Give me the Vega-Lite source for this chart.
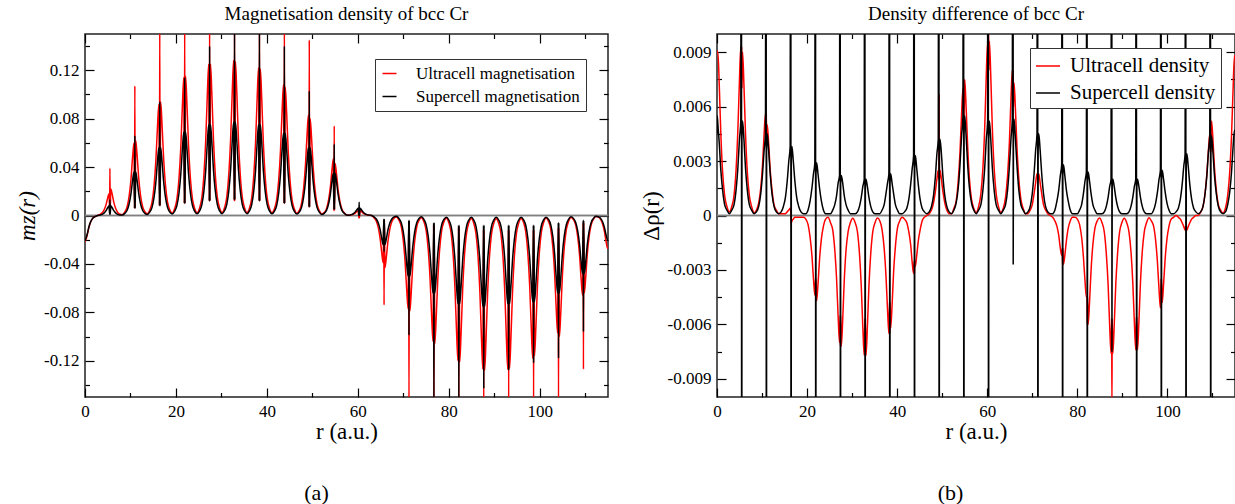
{
"$schema":"https://vega.github.io/schema/vega-lite/v6.json",
"background":"white",
"padding":{"left":15,"top":4,"right":0,"bottom":0},
"spacing":29,
"config":{"font":"Liberation Serif","view":{"stroke":"#222","strokeWidth":1.5},
"axis":{"grid":false,"domain":false,"labelFont":"Liberation Serif","titleFont":"Liberation Serif","labelFontSize":17,"titleFontSize":23,"titleFontWeight":"normal","labelColor":"black","titleColor":"black","tickColor":"black","tickWidth":1.2,"labelFlush":false,"labelOverlap":false},
"title":{"font":"Liberation Serif","fontSize":19,"fontWeight":"normal","color":"black"},
"legend":{"labelFont":"Liberation Serif","labelColor":"black","labelLimit":400}},
"datasets":{"curves":[
{"r":0,"mu":-0.022,"ms":-0.021,"du":0.0091,"ds":0.0045},
{"r":0.06,"mu":-0.021,"ms":-0.02,"du":0.009,"ds":0.0055},
{"r":0.2,"mu":-0.02,"ms":-0.019,"du":0.009,"ds":0.005},
{"r":0.5,"mu":-0.016,"ms":-0.0152,"du":0.0072,"ds":0.004},
{"r":0.85,"mu":-0.01,"ms":-0.0095,"du":0.0045,"ds":0.0025},
{"r":1.25,"mu":-0.0054,"ms":-0.0051,"du":0.0024,"ds":0.0014},
{"r":1.7,"mu":-0.0024,"ms":-0.0023,"du":0.0011,"ds":0.0006},
{"r":2.2,"mu":-0.001,"ms":-0.001,"du":0.0005,"ds":0.0003},
{"r":2.74,"mu":0,"ms":0,"du":0.0002,"ds":0.0001},
{"r":3.28,"mu":0.0009,"ms":0.0004,"du":0.0005,"ds":0.0003},
{"r":3.78,"mu":0.0022,"ms":0.001,"du":0.0011,"ds":0.0006},
{"r":4.23,"mu":0.0049,"ms":0.0022,"du":0.0025,"ds":0.0014},
{"r":4.63,"mu":0.009,"ms":0.004,"du":0.0047,"ds":0.0026},
{"r":4.98,"mu":0.0144,"ms":0.0064,"du":0.0074,"ds":0.0042},
{"r":5.28,"mu":0.018,"ms":0.008,"du":0.0093,"ds":0.0052},
{"r":5.42,"mu":0.004,"ms":0.001,"du":0.007,"ds":0.05},
{"r":5.48,"mu":0.039,"ms":0.013,"du":0.0093,"ds":-0.05},
{"r":5.54,"mu":0.004,"ms":0.001,"du":0.007,"ds":0.0042},
{"r":5.68,"mu":0.022,"ms":0.008,"du":0.009,"ds":0.0052},
{"r":5.98,"mu":0.0176,"ms":0.0064,"du":0.0072,"ds":0.0042},
{"r":6.33,"mu":0.011,"ms":0.004,"du":0.0045,"ds":0.0026},
{"r":6.73,"mu":0.0059,"ms":0.0022,"du":0.0024,"ds":0.0014},
{"r":7.18,"mu":0.0026,"ms":0.001,"du":0.0011,"ds":0.0006},
{"r":7.68,"mu":0.0011,"ms":0.0004,"du":0.0005,"ds":0.0003},
{"r":8.22,"mu":0.0008,"ms":0.0004,"du":0.00015,"ds":0.0001},
{"r":8.76,"mu":0.003,"ms":0.0018,"du":0.0003,"ds":0.0002},
{"r":9.26,"mu":0.0072,"ms":0.0043,"du":0.0007,"ds":0.0005},
{"r":9.71,"mu":0.0162,"ms":0.0097,"du":0.0015,"ds":0.0012},
{"r":10.11,"mu":0.03,"ms":0.018,"du":0.0028,"ds":0.0023},
{"r":10.46,"mu":0.048,"ms":0.0288,"du":0.0045,"ds":0.0036},
{"r":10.76,"mu":0.06,"ms":0.036,"du":0.0056,"ds":0.0045},
{"r":10.9,"mu":0.006,"ms":0.006,"du":0.004,"ds":0.05},
{"r":10.96,"mu":0.107,"ms":0.066,"du":0.0056,"ds":-0.05},
{"r":11.02,"mu":0.006,"ms":0.006,"du":0.004,"ds":0.0036},
{"r":11.16,"mu":0.062,"ms":0.036,"du":0.005,"ds":0.0045},
{"r":11.46,"mu":0.0496,"ms":0.0288,"du":0.004,"ds":0.0036},
{"r":11.81,"mu":0.031,"ms":0.018,"du":0.0025,"ds":0.0023},
{"r":12.21,"mu":0.0167,"ms":0.0097,"du":0.0014,"ds":0.0012},
{"r":12.66,"mu":0.0074,"ms":0.0043,"du":0.0006,"ds":0.0005},
{"r":13.16,"mu":0.0031,"ms":0.0018,"du":0.0003,"ds":0.0002},
{"r":13.7,"mu":0.0015,"ms":0.0009,"du":0.0001,"ds":0.0001},
{"r":14.24,"mu":0.0046,"ms":0.0028,"du":0.0001,"ds":0.0002},
{"r":14.74,"mu":0.011,"ms":0.0067,"du":0.0001,"ds":0.0005},
{"r":15.19,"mu":0.0248,"ms":0.0151,"du":0.0001,"ds":0.001},
{"r":15.59,"mu":0.046,"ms":0.028,"du":0.0002,"ds":0.0019},
{"r":15.94,"mu":0.0736,"ms":0.0448,"du":0.0003,"ds":0.003},
{"r":16.24,"mu":0.092,"ms":0.056,"du":0.0004,"ds":0.0038},
{"r":16.38,"mu":0.008,"ms":0.008,"du":0.0002,"ds":0.05},
{"r":16.44,"mu":0.16,"ms":0.094,"du":-0.0005,"ds":-0.05},
{"r":16.5,"mu":0.008,"ms":0.008,"du":-0.0004,"ds":0.003},
{"r":16.64,"mu":0.094,"ms":0.056,"du":-0.0003,"ds":0.0038},
{"r":16.94,"mu":0.0752,"ms":0.0448,"du":-0.0002,"ds":0.003},
{"r":17.29,"mu":0.047,"ms":0.028,"du":-0.0001,"ds":0.0019},
{"r":17.69,"mu":0.0254,"ms":0.0151,"du":-0.0001,"ds":0.001},
{"r":18.14,"mu":0.0113,"ms":0.0067,"du":-0.0001,"ds":0.0005},
{"r":18.64,"mu":0.0047,"ms":0.0028,"du":-0.0001,"ds":0.0002},
{"r":19.18,"mu":0.0021,"ms":0.0013,"du":-0.0001,"ds":0.0001},
{"r":19.72,"mu":0.0057,"ms":0.0035,"du":-0.0002,"ds":0.0001},
{"r":20.22,"mu":0.0137,"ms":0.0083,"du":-0.0005,"ds":0.0003},
{"r":20.67,"mu":0.0308,"ms":0.0186,"du":-0.0012,"ds":0.0008},
{"r":21.07,"mu":0.057,"ms":0.0345,"du":-0.0022,"ds":0.0015},
{"r":21.42,"mu":0.0912,"ms":0.0552,"du":-0.0035,"ds":0.0023},
{"r":21.72,"mu":0.114,"ms":0.069,"du":-0.0044,"ds":0.0029},
{"r":21.86,"mu":0.01,"ms":0.01,"du":-0.0035,"ds":0.05},
{"r":21.92,"mu":0.16,"ms":0.114,"du":-0.0047,"ds":-0.05},
{"r":21.98,"mu":0.01,"ms":0.01,"du":-0.0035,"ds":0.0023},
{"r":22.12,"mu":0.115,"ms":0.069,"du":-0.0047,"ds":0.0029},
{"r":22.42,"mu":0.092,"ms":0.0552,"du":-0.0038,"ds":0.0023},
{"r":22.77,"mu":0.0575,"ms":0.0345,"du":-0.0024,"ds":0.0015},
{"r":23.17,"mu":0.031,"ms":0.0186,"du":-0.0013,"ds":0.0008},
{"r":23.62,"mu":0.0138,"ms":0.0083,"du":-0.0006,"ds":0.0003},
{"r":24.12,"mu":0.0058,"ms":0.0035,"du":-0.0002,"ds":0.0001},
{"r":24.66,"mu":0.0024,"ms":0.0014,"du":-0.0001,"ds":0.0001},
{"r":25.2,"mu":0.0063,"ms":0.0038,"du":-0.0004,"ds":0.0001},
{"r":25.7,"mu":0.015,"ms":0.009,"du":-0.0008,"ds":0.0003},
{"r":26.15,"mu":0.0338,"ms":0.0203,"du":-0.0019,"ds":0.0006},
{"r":26.55,"mu":0.0625,"ms":0.0375,"du":-0.0035,"ds":0.0011},
{"r":26.9,"mu":0.1,"ms":0.06,"du":-0.0056,"ds":0.0018},
{"r":27.2,"mu":0.125,"ms":0.075,"du":-0.007,"ds":0.0022},
{"r":27.34,"mu":0.012,"ms":0.012,"du":-0.0055,"ds":0.05},
{"r":27.4,"mu":0.16,"ms":0.14,"du":-0.0072,"ds":-0.05},
{"r":27.46,"mu":0.012,"ms":0.012,"du":-0.0055,"ds":0.0018},
{"r":27.6,"mu":0.125,"ms":0.075,"du":-0.0072,"ds":0.0022},
{"r":27.9,"mu":0.1,"ms":0.06,"du":-0.0058,"ds":0.0018},
{"r":28.25,"mu":0.0625,"ms":0.0375,"du":-0.0036,"ds":0.0011},
{"r":28.65,"mu":0.0338,"ms":0.0203,"du":-0.0019,"ds":0.0006},
{"r":29.1,"mu":0.015,"ms":0.009,"du":-0.0009,"ds":0.0003},
{"r":29.6,"mu":0.0063,"ms":0.0038,"du":-0.0004,"ds":0.0001},
{"r":30.14,"mu":0.0025,"ms":0.0015,"du":-0.00015,"ds":0.0001},
{"r":30.68,"mu":0.0064,"ms":0.0039,"du":-0.0004,"ds":0.0001},
{"r":31.18,"mu":0.0154,"ms":0.0092,"du":-0.0009,"ds":0.0002},
{"r":31.63,"mu":0.0346,"ms":0.0208,"du":-0.0021,"ds":0.0005},
{"r":32.03,"mu":0.064,"ms":0.0385,"du":-0.0039,"ds":0.001},
{"r":32.38,"mu":0.1024,"ms":0.0616,"du":-0.0062,"ds":0.0016},
{"r":32.68,"mu":0.128,"ms":0.077,"du":-0.0077,"ds":0.002},
{"r":32.82,"mu":0.012,"ms":0.013,"du":-0.0057,"ds":0.05},
{"r":32.88,"mu":0.16,"ms":0.16,"du":-0.0077,"ds":-0.05},
{"r":32.94,"mu":0.012,"ms":0.013,"du":-0.0057,"ds":0.0016},
{"r":33.08,"mu":0.127,"ms":0.077,"du":-0.0077,"ds":0.002},
{"r":33.38,"mu":0.1016,"ms":0.0616,"du":-0.0062,"ds":0.0016},
{"r":33.73,"mu":0.0635,"ms":0.0385,"du":-0.0039,"ds":0.001},
{"r":34.13,"mu":0.0343,"ms":0.0208,"du":-0.0021,"ds":0.0005},
{"r":34.58,"mu":0.0152,"ms":0.0092,"du":-0.0009,"ds":0.0002},
{"r":35.08,"mu":0.0064,"ms":0.0039,"du":-0.0004,"ds":0.0001},
{"r":35.62,"mu":0.0025,"ms":0.0015,"du":-0.00014,"ds":0.0001},
{"r":36.16,"mu":0.0061,"ms":0.0038,"du":-0.0003,"ds":0.0001},
{"r":36.66,"mu":0.0146,"ms":0.009,"du":-0.0008,"ds":0.0003},
{"r":37.11,"mu":0.0329,"ms":0.0203,"du":-0.0018,"ds":0.0006},
{"r":37.51,"mu":0.061,"ms":0.0375,"du":-0.0033,"ds":0.0012},
{"r":37.86,"mu":0.0976,"ms":0.06,"du":-0.0052,"ds":0.0018},
{"r":38.16,"mu":0.122,"ms":0.075,"du":-0.0065,"ds":0.0023},
{"r":38.3,"mu":0.012,"ms":0.012,"du":-0.0048,"ds":0.05},
{"r":38.36,"mu":0.16,"ms":0.16,"du":-0.0065,"ds":-0.05},
{"r":38.42,"mu":0.012,"ms":0.012,"du":-0.0048,"ds":0.0018},
{"r":38.56,"mu":0.121,"ms":0.075,"du":-0.0062,"ds":0.0023},
{"r":38.86,"mu":0.0968,"ms":0.06,"du":-0.005,"ds":0.0018},
{"r":39.21,"mu":0.0605,"ms":0.0375,"du":-0.0031,"ds":0.0012},
{"r":39.61,"mu":0.0327,"ms":0.0203,"du":-0.0017,"ds":0.0006},
{"r":40.06,"mu":0.0145,"ms":0.009,"du":-0.0007,"ds":0.0003},
{"r":40.56,"mu":0.0061,"ms":0.0038,"du":-0.0003,"ds":0.0001},
{"r":41.1,"mu":0.0023,"ms":0.0014,"du":-0.0001,"ds":0.0001},
{"r":41.64,"mu":0.0054,"ms":0.0034,"du":-0.0002,"ds":0.0002},
{"r":42.14,"mu":0.013,"ms":0.0082,"du":-0.0004,"ds":0.0004},
{"r":42.59,"mu":0.0292,"ms":0.0184,"du":-0.0009,"ds":0.0009},
{"r":42.99,"mu":0.054,"ms":0.034,"du":-0.0016,"ds":0.0017},
{"r":43.34,"mu":0.0864,"ms":0.0544,"du":-0.0026,"ds":0.0026},
{"r":43.64,"mu":0.108,"ms":0.068,"du":-0.0032,"ds":0.0033},
{"r":43.78,"mu":0.01,"ms":0.01,"du":-0.0025,"ds":0.05},
{"r":43.84,"mu":0.16,"ms":0.14,"du":-0.0032,"ds":-0.05},
{"r":43.9,"mu":0.01,"ms":0.01,"du":-0.0025,"ds":0.0026},
{"r":44.04,"mu":0.106,"ms":0.068,"du":-0.0028,"ds":0.0033},
{"r":44.34,"mu":0.0848,"ms":0.0544,"du":-0.0022,"ds":0.0026},
{"r":44.69,"mu":0.053,"ms":0.034,"du":-0.0014,"ds":0.0017},
{"r":45.09,"mu":0.0286,"ms":0.0184,"du":-0.0008,"ds":0.0009},
{"r":45.54,"mu":0.0127,"ms":0.0082,"du":-0.0003,"ds":0.0004},
{"r":46.04,"mu":0.0053,"ms":0.0034,"du":-0.0001,"ds":0.0002},
{"r":46.58,"mu":0.0019,"ms":0.0012,"du":0,"ds":0.0001},
{"r":47.12,"mu":0.0042,"ms":0.0028,"du":0.0001,"ds":0.0002},
{"r":47.62,"mu":0.01,"ms":0.0067,"du":0.0003,"ds":0.0005},
{"r":48.07,"mu":0.0224,"ms":0.0151,"du":0.0007,"ds":0.0011},
{"r":48.47,"mu":0.0415,"ms":0.028,"du":0.0013,"ds":0.0021},
{"r":48.82,"mu":0.0664,"ms":0.0448,"du":0.002,"ds":0.0034},
{"r":49.12,"mu":0.083,"ms":0.056,"du":0.0025,"ds":0.0042},
{"r":49.26,"mu":0.007,"ms":0.007,"du":0.002,"ds":0.05},
{"r":49.32,"mu":0.145,"ms":0.103,"du":0.0067,"ds":-0.05},
{"r":49.38,"mu":0.007,"ms":0.007,"du":0.002,"ds":0.0034},
{"r":49.52,"mu":0.08,"ms":0.056,"du":0.0025,"ds":0.0042},
{"r":49.82,"mu":0.064,"ms":0.0448,"du":0.002,"ds":0.0034},
{"r":50.17,"mu":0.04,"ms":0.028,"du":0.0013,"ds":0.0021},
{"r":50.57,"mu":0.0216,"ms":0.0151,"du":0.0007,"ds":0.0011},
{"r":51.02,"mu":0.0096,"ms":0.0067,"du":0.0003,"ds":0.0005},
{"r":51.52,"mu":0.004,"ms":0.0028,"du":0.0001,"ds":0.0002},
{"r":52.06,"mu":0.0013,"ms":0.0009,"du":0.0001,"ds":0.0001},
{"r":52.6,"mu":0.0024,"ms":0.0018,"du":0.0004,"ds":0.0003},
{"r":53.1,"mu":0.0056,"ms":0.0042,"du":0.0008,"ds":0.0007},
{"r":53.55,"mu":0.0127,"ms":0.0095,"du":0.0019,"ds":0.0015},
{"r":53.95,"mu":0.0235,"ms":0.0175,"du":0.0035,"ds":0.0028},
{"r":54.3,"mu":0.0376,"ms":0.028,"du":0.0056,"ds":0.0044},
{"r":54.6,"mu":0.047,"ms":0.035,"du":0.007,"ds":0.0055},
{"r":54.74,"mu":0.004,"ms":0.005,"du":0.0055,"ds":0.05},
{"r":54.8,"mu":0.074,"ms":0.059,"du":0.0075,"ds":-0.05},
{"r":54.86,"mu":0.004,"ms":0.005,"du":0.0055,"ds":0.0044},
{"r":55,"mu":0.043,"ms":0.035,"du":0.0075,"ds":0.0055},
{"r":55.3,"mu":0.0344,"ms":0.028,"du":0.006,"ds":0.0044},
{"r":55.65,"mu":0.0215,"ms":0.0175,"du":0.0038,"ds":0.0028},
{"r":56.05,"mu":0.0116,"ms":0.0095,"du":0.002,"ds":0.0015},
{"r":56.5,"mu":0.0052,"ms":0.0042,"du":0.0009,"ds":0.0007},
{"r":57,"mu":0.0022,"ms":0.0018,"du":0.0004,"ds":0.0003},
{"r":57.54,"mu":0.0004,"ms":0.0004,"du":0.00017,"ds":0.0001},
{"r":58.08,"mu":0.0002,"ms":0.0003,"du":0.0005,"ds":0.0003},
{"r":58.58,"mu":0.0005,"ms":0.0007,"du":0.0012,"ds":0.0006},
{"r":59.03,"mu":0.0011,"ms":0.0016,"du":0.0026,"ds":0.0014},
{"r":59.43,"mu":0.002,"ms":0.003,"du":0.0048,"ds":0.0026},
{"r":59.78,"mu":0.0032,"ms":0.0048,"du":0.0077,"ds":0.0042},
{"r":60.08,"mu":0.004,"ms":0.006,"du":0.0096,"ds":0.0052},
{"r":60.22,"mu":-0.002,"ms":0,"du":0.008,"ds":0.05},
{"r":60.28,"mu":0.006,"ms":0.011,"du":0.0105,"ds":-0.05},
{"r":60.34,"mu":-0.002,"ms":0,"du":0.008,"ds":0.0042},
{"r":60.48,"mu":0.004,"ms":0.006,"du":0.0096,"ds":0.0052},
{"r":60.78,"mu":0.0032,"ms":0.0048,"du":0.0077,"ds":0.0042},
{"r":61.13,"mu":0.002,"ms":0.003,"du":0.0048,"ds":0.0026},
{"r":61.53,"mu":0.0011,"ms":0.0016,"du":0.0026,"ds":0.0014},
{"r":61.98,"mu":0.0005,"ms":0.0007,"du":0.0012,"ds":0.0006},
{"r":62.48,"mu":0.0002,"ms":0.0003,"du":0.0005,"ds":0.0003},
{"r":63.02,"mu":0,"ms":0,"du":0.00018,"ds":0.0001},
{"r":63.56,"mu":-0.002,"ms":-0.0012,"du":0.0004,"ds":0.0003},
{"r":64.06,"mu":-0.0047,"ms":-0.0029,"du":0.001,"ds":0.0006},
{"r":64.51,"mu":-0.0105,"ms":-0.0065,"du":0.0022,"ds":0.0014},
{"r":64.91,"mu":-0.0195,"ms":-0.012,"du":0.004,"ds":0.0027},
{"r":65.26,"mu":-0.0312,"ms":-0.0192,"du":0.0064,"ds":0.0042},
{"r":65.56,"mu":-0.039,"ms":-0.024,"du":0.008,"ds":0.0053},
{"r":65.7,"mu":-0.004,"ms":-0.003,"du":0.006,"ds":0.05},
{"r":65.76,"mu":-0.074,"ms":-0.03,"du":0.008,"ds":-0.0027},
{"r":65.82,"mu":-0.004,"ms":-0.003,"du":0.006,"ds":0.0042},
{"r":65.96,"mu":-0.043,"ms":-0.024,"du":0.0073,"ds":0.0053},
{"r":66.26,"mu":-0.0344,"ms":-0.0192,"du":0.0058,"ds":0.0042},
{"r":66.61,"mu":-0.0215,"ms":-0.012,"du":0.0037,"ds":0.0027},
{"r":67.01,"mu":-0.0116,"ms":-0.0065,"du":0.002,"ds":0.0014},
{"r":67.46,"mu":-0.0052,"ms":-0.0029,"du":0.0009,"ds":0.0006},
{"r":67.96,"mu":-0.0022,"ms":-0.0012,"du":0.0004,"ds":0.0003},
{"r":68.5,"mu":-0.0012,"ms":-0.0007,"du":0.0001,"ds":0.0001},
{"r":69.04,"mu":-0.0039,"ms":-0.0025,"du":0.0001,"ds":0.0002},
{"r":69.54,"mu":-0.0092,"ms":-0.006,"du":0.0003,"ds":0.0005},
{"r":69.99,"mu":-0.0208,"ms":-0.0135,"du":0.0006,"ds":0.0012},
{"r":70.39,"mu":-0.0385,"ms":-0.025,"du":0.0012,"ds":0.0023},
{"r":70.74,"mu":-0.0616,"ms":-0.04,"du":0.0018,"ds":0.0036},
{"r":71.04,"mu":-0.077,"ms":-0.05,"du":0.0023,"ds":0.0045},
{"r":71.18,"mu":-0.006,"ms":-0.004,"du":0.002,"ds":0.05},
{"r":71.24,"mu":-0.16,"ms":-0.099,"du":0.0023,"ds":-0.05},
{"r":71.3,"mu":-0.006,"ms":-0.004,"du":0.002,"ds":0.0036},
{"r":71.44,"mu":-0.079,"ms":-0.05,"du":0.0023,"ds":0.0045},
{"r":71.74,"mu":-0.0632,"ms":-0.04,"du":0.0018,"ds":0.0036},
{"r":72.09,"mu":-0.0395,"ms":-0.025,"du":0.0012,"ds":0.0023},
{"r":72.49,"mu":-0.0213,"ms":-0.0135,"du":0.0006,"ds":0.0012},
{"r":72.94,"mu":-0.0095,"ms":-0.006,"du":0.0003,"ds":0.0005},
{"r":73.44,"mu":-0.004,"ms":-0.0025,"du":0.0001,"ds":0.0002},
{"r":73.98,"mu":-0.0018,"ms":-0.0011,"du":0,"ds":0.0001},
{"r":74.52,"mu":-0.0052,"ms":-0.0032,"du":-0.0001,"ds":0.0001},
{"r":75.02,"mu":-0.0125,"ms":-0.0077,"du":-0.0003,"ds":0.0003},
{"r":75.47,"mu":-0.0281,"ms":-0.0173,"du":-0.0006,"ds":0.0008},
{"r":75.87,"mu":-0.052,"ms":-0.032,"du":-0.0011,"ds":0.0014},
{"r":76.22,"mu":-0.0832,"ms":-0.0512,"du":-0.0018,"ds":0.0022},
{"r":76.52,"mu":-0.104,"ms":-0.064,"du":-0.0022,"ds":0.0028},
{"r":76.66,"mu":-0.008,"ms":-0.006,"du":-0.0018,"ds":0.05},
{"r":76.72,"mu":-0.16,"ms":-0.16,"du":-0.0027,"ds":-0.05},
{"r":76.78,"mu":-0.008,"ms":-0.006,"du":-0.0018,"ds":0.0022},
{"r":76.92,"mu":-0.106,"ms":-0.064,"du":-0.0027,"ds":0.0028},
{"r":77.22,"mu":-0.0848,"ms":-0.0512,"du":-0.0022,"ds":0.0022},
{"r":77.57,"mu":-0.053,"ms":-0.032,"du":-0.0014,"ds":0.0014},
{"r":77.97,"mu":-0.0286,"ms":-0.0173,"du":-0.0007,"ds":0.0008},
{"r":78.42,"mu":-0.0127,"ms":-0.0077,"du":-0.0003,"ds":0.0003},
{"r":78.92,"mu":-0.0053,"ms":-0.0032,"du":-0.0001,"ds":0.0001},
{"r":79.46,"mu":-0.0023,"ms":-0.0014,"du":-0.0001,"ds":0.0001},
{"r":80,"mu":-0.006,"ms":-0.0037,"du":-0.0002,"ds":0.0001},
{"r":80.5,"mu":-0.0144,"ms":-0.0088,"du":-0.0005,"ds":0.0003},
{"r":80.95,"mu":-0.0324,"ms":-0.0197,"du":-0.0012,"ds":0.0006},
{"r":81.35,"mu":-0.06,"ms":-0.0365,"du":-0.0023,"ds":0.0012},
{"r":81.7,"mu":-0.096,"ms":-0.0584,"du":-0.0036,"ds":0.0019},
{"r":82,"mu":-0.12,"ms":-0.073,"du":-0.0045,"ds":0.0024},
{"r":82.14,"mu":-0.01,"ms":-0.008,"du":-0.0045,"ds":0.05},
{"r":82.2,"mu":-0.16,"ms":-0.16,"du":-0.006,"ds":-0.05},
{"r":82.26,"mu":-0.01,"ms":-0.008,"du":-0.0045,"ds":0.0019},
{"r":82.4,"mu":-0.121,"ms":-0.073,"du":-0.006,"ds":0.0024},
{"r":82.7,"mu":-0.0968,"ms":-0.0584,"du":-0.0048,"ds":0.0019},
{"r":83.05,"mu":-0.0605,"ms":-0.0365,"du":-0.003,"ds":0.0012},
{"r":83.45,"mu":-0.0327,"ms":-0.0197,"du":-0.0016,"ds":0.0006},
{"r":83.9,"mu":-0.0145,"ms":-0.0088,"du":-0.0007,"ds":0.0003},
{"r":84.4,"mu":-0.0061,"ms":-0.0037,"du":-0.0003,"ds":0.0001},
{"r":84.94,"mu":-0.0025,"ms":-0.0015,"du":-0.00014,"ds":0.0001},
{"r":85.48,"mu":-0.0064,"ms":-0.0038,"du":-0.0004,"ds":0.0001},
{"r":85.98,"mu":-0.0152,"ms":-0.009,"du":-0.0009,"ds":0.0002},
{"r":86.43,"mu":-0.0343,"ms":-0.0203,"du":-0.0021,"ds":0.0005},
{"r":86.83,"mu":-0.0635,"ms":-0.0375,"du":-0.0038,"ds":0.001},
{"r":87.18,"mu":-0.1016,"ms":-0.06,"du":-0.0061,"ds":0.0016},
{"r":87.48,"mu":-0.127,"ms":-0.075,"du":-0.0076,"ds":0.002},
{"r":87.62,"mu":-0.012,"ms":-0.008,"du":-0.0057,"ds":0.05},
{"r":87.68,"mu":-0.16,"ms":-0.143,"du":-0.0105,"ds":-0.0075},
{"r":87.74,"mu":-0.012,"ms":-0.008,"du":-0.0057,"ds":0.0016},
{"r":87.88,"mu":-0.128,"ms":-0.075,"du":-0.0076,"ds":0.002},
{"r":88.18,"mu":-0.1024,"ms":-0.06,"du":-0.0061,"ds":0.0016},
{"r":88.53,"mu":-0.064,"ms":-0.0375,"du":-0.0038,"ds":0.001},
{"r":88.93,"mu":-0.0346,"ms":-0.0203,"du":-0.0021,"ds":0.0005},
{"r":89.38,"mu":-0.0154,"ms":-0.009,"du":-0.0009,"ds":0.0002},
{"r":89.88,"mu":-0.0064,"ms":-0.0038,"du":-0.0004,"ds":0.0001},
{"r":90.42,"mu":-0.0026,"ms":-0.0015,"du":-0.00015,"ds":0.0001},
{"r":90.96,"mu":-0.0064,"ms":-0.0037,"du":-0.0004,"ds":0.0001},
{"r":91.46,"mu":-0.0152,"ms":-0.0088,"du":-0.0009,"ds":0.0002},
{"r":91.91,"mu":-0.0343,"ms":-0.0197,"du":-0.002,"ds":0.0005},
{"r":92.31,"mu":-0.0635,"ms":-0.0365,"du":-0.0037,"ds":0.001},
{"r":92.66,"mu":-0.1016,"ms":-0.0584,"du":-0.0059,"ds":0.0016},
{"r":92.96,"mu":-0.127,"ms":-0.073,"du":-0.0074,"ds":0.002},
{"r":93.1,"mu":-0.012,"ms":-0.008,"du":-0.0056,"ds":0.05},
{"r":93.16,"mu":-0.16,"ms":-0.128,"du":-0.0074,"ds":-0.05},
{"r":93.22,"mu":-0.012,"ms":-0.008,"du":-0.0056,"ds":0.0016},
{"r":93.36,"mu":-0.126,"ms":-0.073,"du":-0.0074,"ds":0.002},
{"r":93.66,"mu":-0.1008,"ms":-0.0584,"du":-0.0059,"ds":0.0016},
{"r":94.01,"mu":-0.063,"ms":-0.0365,"du":-0.0037,"ds":0.001},
{"r":94.41,"mu":-0.034,"ms":-0.0197,"du":-0.002,"ds":0.0005},
{"r":94.86,"mu":-0.0151,"ms":-0.0088,"du":-0.0009,"ds":0.0002},
{"r":95.36,"mu":-0.0063,"ms":-0.0037,"du":-0.0004,"ds":0.0001},
{"r":95.9,"mu":-0.0024,"ms":-0.0014,"du":-0.00012,"ds":0.0001},
{"r":96.44,"mu":-0.0059,"ms":-0.0036,"du":-0.0003,"ds":0.0001},
{"r":96.94,"mu":-0.0142,"ms":-0.0085,"du":-0.0006,"ds":0.0003},
{"r":97.39,"mu":-0.0319,"ms":-0.0192,"du":-0.0014,"ds":0.0007},
{"r":97.79,"mu":-0.059,"ms":-0.0355,"du":-0.0026,"ds":0.0013},
{"r":98.14,"mu":-0.0944,"ms":-0.0568,"du":-0.0041,"ds":0.002},
{"r":98.44,"mu":-0.118,"ms":-0.071,"du":-0.0051,"ds":0.0025},
{"r":98.58,"mu":-0.012,"ms":-0.008,"du":-0.0035,"ds":0.05},
{"r":98.64,"mu":-0.16,"ms":-0.122,"du":-0.0051,"ds":-0.05},
{"r":98.7,"mu":-0.012,"ms":-0.008,"du":-0.0035,"ds":0.002},
{"r":98.84,"mu":-0.116,"ms":-0.071,"du":-0.0048,"ds":0.0025},
{"r":99.14,"mu":-0.0928,"ms":-0.0568,"du":-0.0038,"ds":0.002},
{"r":99.49,"mu":-0.058,"ms":-0.0355,"du":-0.0024,"ds":0.0013},
{"r":99.89,"mu":-0.0313,"ms":-0.0192,"du":-0.0013,"ds":0.0007},
{"r":100.34,"mu":-0.0139,"ms":-0.0085,"du":-0.0006,"ds":0.0003},
{"r":100.84,"mu":-0.0058,"ms":-0.0036,"du":-0.0002,"ds":0.0001},
{"r":101.38,"mu":-0.0021,"ms":-0.0014,"du":-0.0001,"ds":0.0001},
{"r":101.92,"mu":-0.0049,"ms":-0.0032,"du":0,"ds":0.0002},
{"r":102.42,"mu":-0.0116,"ms":-0.0077,"du":-0.0001,"ds":0.0004},
{"r":102.87,"mu":-0.0262,"ms":-0.0173,"du":-0.0002,"ds":0.0009},
{"r":103.27,"mu":-0.0485,"ms":-0.032,"du":-0.0004,"ds":0.0017},
{"r":103.62,"mu":-0.0776,"ms":-0.0512,"du":-0.0006,"ds":0.0027},
{"r":103.92,"mu":-0.097,"ms":-0.064,"du":-0.0008,"ds":0.0034},
{"r":104.06,"mu":-0.01,"ms":-0.006,"du":-0.0006,"ds":0.05},
{"r":104.12,"mu":-0.16,"ms":-0.118,"du":-0.0008,"ds":-0.05},
{"r":104.18,"mu":-0.01,"ms":-0.006,"du":-0.0006,"ds":0.0027},
{"r":104.32,"mu":-0.1,"ms":-0.064,"du":-0.0008,"ds":0.0034},
{"r":104.62,"mu":-0.08,"ms":-0.0512,"du":-0.0006,"ds":0.0027},
{"r":104.97,"mu":-0.05,"ms":-0.032,"du":-0.0004,"ds":0.0017},
{"r":105.37,"mu":-0.027,"ms":-0.0173,"du":-0.0002,"ds":0.0009},
{"r":105.82,"mu":-0.012,"ms":-0.0077,"du":-0.0001,"ds":0.0004},
{"r":106.32,"mu":-0.005,"ms":-0.0032,"du":0,"ds":0.0002},
{"r":106.86,"mu":-0.0017,"ms":-0.0011,"du":0,"ds":0.0001},
{"r":107.4,"mu":-0.0033,"ms":-0.0024,"du":0.0002,"ds":0.0002},
{"r":107.9,"mu":-0.0079,"ms":-0.0058,"du":0.0005,"ds":0.0005},
{"r":108.35,"mu":-0.0178,"ms":-0.013,"du":0.0012,"ds":0.0012},
{"r":108.75,"mu":-0.033,"ms":-0.024,"du":0.0023,"ds":0.0022},
{"r":109.1,"mu":-0.0528,"ms":-0.0384,"du":0.0036,"ds":0.0035},
{"r":109.4,"mu":-0.066,"ms":-0.048,"du":0.0045,"ds":0.0044},
{"r":109.54,"mu":-0.006,"ms":-0.004,"du":0.0035,"ds":0.05},
{"r":109.6,"mu":-0.127,"ms":-0.096,"du":0.0052,"ds":-0.05},
{"r":109.66,"mu":-0.006,"ms":-0.004,"du":0.0035,"ds":0.0035},
{"r":109.8,"mu":-0.064,"ms":-0.048,"du":0.0052,"ds":0.0044},
{"r":110.1,"mu":-0.0512,"ms":-0.0384,"du":0.0042,"ds":0.0035},
{"r":110.45,"mu":-0.032,"ms":-0.024,"du":0.0026,"ds":0.0022},
{"r":110.85,"mu":-0.0173,"ms":-0.013,"du":0.0014,"ds":0.0012},
{"r":111.3,"mu":-0.0077,"ms":-0.0058,"du":0.0006,"ds":0.0005},
{"r":111.8,"mu":-0.0032,"ms":-0.0024,"du":0.0003,"ds":0.0002},
{"r":112.34,"mu":-0.0009,"ms":-0.0007,"du":0.00014,"ds":0.0001},
{"r":112.88,"mu":-0.0014,"ms":-0.001,"du":0.0004,"ds":0.0002},
{"r":113.38,"mu":-0.0032,"ms":-0.0024,"du":0.0011,"ds":0.0006},
{"r":113.83,"mu":-0.0073,"ms":-0.0054,"du":0.0024,"ds":0.0013},
{"r":114.23,"mu":-0.0135,"ms":-0.01,"du":0.0044,"ds":0.0024},
{"r":114.58,"mu":-0.0216,"ms":-0.016,"du":0.007,"ds":0.0038},
{"r":114.88,"mu":-0.027,"ms":-0.02,"du":0.0088,"ds":0.0047},
{"r":115,"mu":-0.026,"ms":-0.02,"du":0.0088,"ds":0.0047}
]},
"resolve":{"scale":{"color":"independent"},"legend":{"color":"independent"}},
"hconcat":[
{"width":523,"height":363,
"title":{"text":"Magnetisation density of bcc Cr","offset":9},
"resolve":{"axis":{"x":"independent","y":"independent"}},
"layer":[
{"data":{"values":[{}]},"mark":{"type":"rule","color":"#808080","strokeWidth":1.5},
"encoding":{
"x":{"datum":0,"type":"quantitative","scale":{"domain":[0,115],"nice":false,"zero":false},"axis":{"orient":"bottom","values":[10,30,50,70,90,110],"labels":false,"tickSize":-4.5,"title":"(a)","titleFontSize":22,"titleX":231,"titleY":95,"titleAlign":"center","titleBaseline":"middle","titleAnchor":null}},
"x2":{"datum":115},
"y":{"datum":0,"type":"quantitative","scale":{"domain":[-0.15,0.15],"nice":false},"axis":{"orient":"left","values":[-0.14,-0.1,-0.06,-0.02,0.02,0.06,0.1,0.14],"labels":false,"tickSize":-4.5,"title":null}}}},
{"data":{"values":[{}]},"mark":{"type":"rule","color":"#808080","strokeWidth":1.5},
"encoding":{
"x":{"datum":0,"type":"quantitative","axis":{"orient":"top","values":[10,30,50,70,90,110],"labels":false,"tickSize":-4.5,"title":null}},
"x2":{"datum":115},
"y":{"datum":0,"type":"quantitative","axis":{"orient":"right","values":[-0.14,-0.1,-0.06,-0.02,0.02,0.06,0.1,0.14],"labels":false,"tickSize":-4.5,"title":null}}}},
{"data":{"name":"curves"},"mark":{"type":"line","strokeWidth":1.5,"clip":true,"interpolate":"monotone"},
"encoding":{
"x":{"field":"r","type":"quantitative","axis":{"orient":"bottom","values":[0,20,40,60,80,100],"tickSize":-9,"labelPadding":15,"title":"r (a.u.)","titlePadding":1}},
"y":{"field":"mu","type":"quantitative","axis":{"orient":"left","values":[-0.12,-0.08,-0.04,0,0.04,0.08,0.12],"tickSize":-9,"labelPadding":15,"title":"mz(r)","titleFontStyle":"italic","titlePadding":4,"labelExpr":"datum.value == 0 ? '0' : (datum.value < 0 ? '-' : '') + format(abs(datum.value), '.2f')"}},
"color":{"datum":"Ultracell magnetisation","type":"nominal","scale":{"domain":["Ultracell magnetisation","Supercell magnetisation"],"range":["#ff0000","#000000"]},
"legend":{"orient":"none","legendX":290,"legendY":25,"title":null,"symbolType":"stroke","symbolSize":196,"symbolStrokeWidth":1.5,"labelFontSize":17,"labelOffset":18,"labelLimit":400,"strokeColor":"#333","fillColor":"white","padding":6,"rowPadding":5}}}},
{"data":{"name":"curves"},"mark":{"type":"line","strokeWidth":1.5,"clip":true,"interpolate":"monotone"},
"encoding":{
"x":{"field":"r","type":"quantitative","axis":{"orient":"top","values":[0,20,40,60,80,100],"tickSize":-9,"labels":false,"title":null}},
"y":{"field":"ms","type":"quantitative","axis":{"orient":"right","values":[-0.12,-0.08,-0.04,0,0.04,0.08,0.12],"tickSize":-9,"labels":false,"title":null}},
"color":{"datum":"Supercell magnetisation","type":"nominal"}}}
]},
{"width":518,"height":363,
"title":{"text":"Density difference of bcc Cr","offset":9},
"resolve":{"axis":{"x":"independent","y":"independent"}},
"layer":[
{"data":{"values":[{}]},"mark":{"type":"rule","color":"#808080","strokeWidth":1.5},
"encoding":{
"x":{"datum":0,"type":"quantitative","scale":{"domain":[0,115],"nice":false,"zero":false},"axis":{"orient":"bottom","values":[10,30,50,70,90,110],"labels":false,"tickSize":-4.5,"title":"(b)","titleFontSize":22,"titleX":233,"titleY":95,"titleAlign":"center","titleBaseline":"middle","titleAnchor":null}},
"x2":{"datum":115},
"y":{"datum":0,"type":"quantitative","scale":{"domain":[-0.01,0.01],"nice":false},"axis":{"orient":"left","values":[-0.0075,-0.0045,-0.0015,0.0015,0.0045,0.0075],"labels":false,"tickSize":-4.5,"title":null}}}},
{"data":{"values":[{}]},"mark":{"type":"rule","color":"#808080","strokeWidth":1.5},
"encoding":{
"x":{"datum":0,"type":"quantitative","axis":{"orient":"top","values":[10,30,50,70,90,110],"labels":false,"tickSize":-4.5,"title":null}},
"x2":{"datum":115},
"y":{"datum":0,"type":"quantitative","axis":{"orient":"right","values":[-0.0075,-0.0045,-0.0015,0.0015,0.0045,0.0075],"labels":false,"tickSize":-4.5,"title":null}}}},
{"data":{"name":"curves"},"mark":{"type":"line","strokeWidth":1.5,"clip":true,"interpolate":"monotone"},
"encoding":{
"x":{"field":"r","type":"quantitative","axis":{"orient":"bottom","values":[0,20,40,60,80,100],"tickSize":-9,"labelPadding":15,"title":"r (a.u.)","titlePadding":1}},
"y":{"field":"du","type":"quantitative","axis":{"orient":"left","values":[-0.009,-0.006,-0.003,0,0.003,0.006,0.009],"tickSize":-9,"labelPadding":15,"title":"Δρ(r)","titlePadding":4,"labelExpr":"datum.value == 0 ? '0' : (datum.value < 0 ? '-' : '') + format(abs(datum.value), '.3f')"}},
"color":{"datum":"Ultracell density","type":"nominal","scale":{"domain":["Ultracell density","Supercell density"],"range":["#ff0000","#000000"]},
"legend":{"orient":"none","legendX":313,"legendY":14,"title":null,"symbolType":"stroke","symbolSize":576,"symbolStrokeWidth":1.5,"labelFontSize":21,"labelOffset":9,"labelLimit":400,"strokeColor":"#333","fillColor":"white","padding":5,"rowPadding":4}}}},
{"data":{"name":"curves"},"mark":{"type":"line","strokeWidth":1.5,"clip":true,"interpolate":"monotone"},
"encoding":{
"x":{"field":"r","type":"quantitative","axis":{"orient":"top","values":[0,20,40,60,80,100],"tickSize":-9,"labels":false,"title":null}},
"y":{"field":"ds","type":"quantitative","axis":{"orient":"right","values":[-0.009,-0.006,-0.003,0,0.003,0.006,0.009],"tickSize":-9,"labels":false,"title":null}},
"color":{"datum":"Supercell density","type":"nominal"}}}
]}
]}
